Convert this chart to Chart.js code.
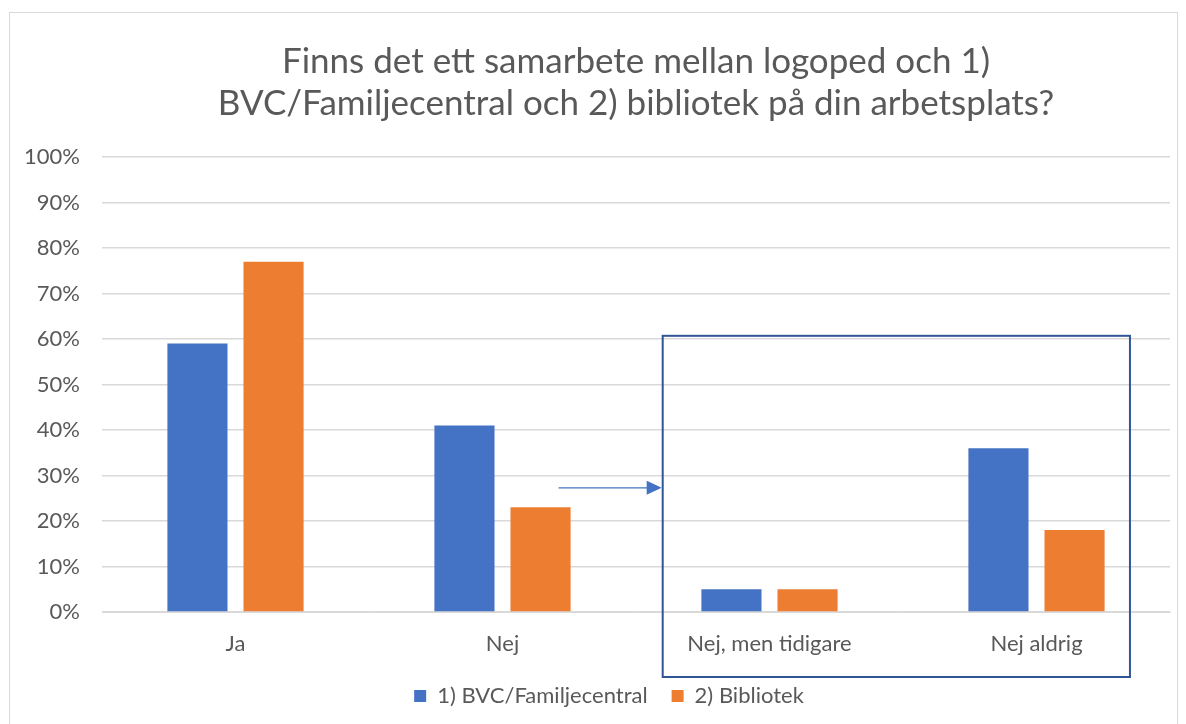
<!DOCTYPE html>
<html>
<head>
<meta charset="utf-8">
<script src="https://cdn.jsdelivr.net/npm/chart.js@4"></script>
<style>
  body { margin: 0; background: #fff; }
  #wrap { position: absolute; left: 9px; top: 12px; width: 1167px; height: 720px; border: 1px solid #d9d9d9; }
</style>
</head>
<body>
<div id="wrap"><canvas id="chart"></canvas></div>
<script>
// Data
const categories = ['Ja', 'Nej', 'Nej, men tidigare', 'Nej aldrig'];
const bvc = [59, 41, 5, 36];
const bibliotek = [77, 23, 5, 18];
const yTicks = [0, 10, 20, 30, 40, 50, 60, 70, 80, 90, 100];

const textColor = '#595959';
const fontFamily = 'Lato, "Open Sans", sans-serif';

// Box around the two last categories, plus the arrow pointing into it
const highlight = {
  id: 'highlight',
  afterLayout(chart) {
    // title sits over the plot area, legend a bit right of centre
    const t = chart.titleBlock;
    const shift = (chart.chartArea.left + chart.chartArea.right) / 2 - (t.left + t.right) / 2;
    t.left += shift;
    t.right += shift;
    chart.legend.left += 19;
    chart.legend.right += 19;
  },
  afterDatasetsDraw(chart) {
    const { ctx, scales: { x, y } } = chart;
    const left = x.getPixelForValue(1.6);
    const right = x.getPixelForValue(3.35);
    const top = y.getPixelForValue(60.7);
    const bottom = y.getPixelForValue(0) + 65;
    ctx.save();
    ctx.strokeStyle = '#2F5597';
    ctx.lineWidth = 2;
    ctx.strokeRect(left, top, right - left, bottom - top);

    // arrow
    const ay = y.getPixelForValue(27.3);
    const ax = x.getPixelForValue(1.21);
    ctx.strokeStyle = '#4472C4';
    ctx.fillStyle = '#4472C4';
    ctx.lineWidth = 1.2;
    ctx.beginPath();
    ctx.moveTo(ax, ay);
    ctx.lineTo(left - 14, ay);
    ctx.stroke();
    ctx.beginPath();
    ctx.moveTo(left - 1, ay);
    ctx.lineTo(left - 16, ay - 7);
    ctx.lineTo(left - 16, ay + 7);
    ctx.closePath();
    ctx.fill();
    ctx.restore();
  }
};

const ctx = document.getElementById('chart').getContext('2d');
const chart = new Chart(ctx, {
  type: 'bar',
  data: {
    labels: categories,
    datasets: [{
      label: '1) BVC/Familjecentral',
      data: bvc,
      backgroundColor: '#4472C4',
      barPercentage: 0.79,
      categoryPercentage: 0.57
    }, {
      label: '2) Bibliotek',
      data: bibliotek,
      backgroundColor: '#ED7D31',
      barPercentage: 0.79,
      categoryPercentage: 0.57
    }]
  },
  options: {
    responsive: true,
    maintainAspectRatio: false,
    animation: false,
    layout: {
      padding: { top: 28, right: 7, bottom: 16, left: 0 }
    },
    plugins: {
      title: {
        display: true,
        text: ['Finns det ett samarbete mellan logoped och 1)', 'BVC/Familjecentral och 2) bibliotek på din arbetsplats?'],
        color: textColor,
        font: { family: fontFamily, size: 35, weight: 'normal', lineHeight: 1.2 },
        padding: { top: 0, bottom: 32 }
      },
      legend: {
        position: 'bottom',
        labels: {
          color: textColor,
          font: { family: fontFamily, size: 22 },
          boxWidth: 12,
          boxHeight: 12,
          padding: 24
        }
      },
      tooltip: { enabled: false }
    },
    scales: {
      x: {
        grid: { display: false },
        border: { color: '#d9d9d9' },
        afterFit(scale) { scale.height = 49; },
        ticks: {
          color: textColor,
          font: { family: fontFamily, size: 22 },
          padding: 11
        }
      },
      y: {
        min: 0,
        max: 100,
        afterFit(scale) { scale.width = 92; },
        afterBuildTicks(scale) { scale.ticks = yTicks.map(v => ({ value: v })); },
        grid: { color: '#d9d9d9', lineWidth: 1.5, drawTicks: false },
        border: { display: false },
        ticks: {
          color: textColor,
          font: { family: fontFamily, size: 22 },
          padding: 22,
          callback: v => v + '%'
        }
      }
    }
  },
  plugins: [highlight]
});
</script>
</body>
</html>
